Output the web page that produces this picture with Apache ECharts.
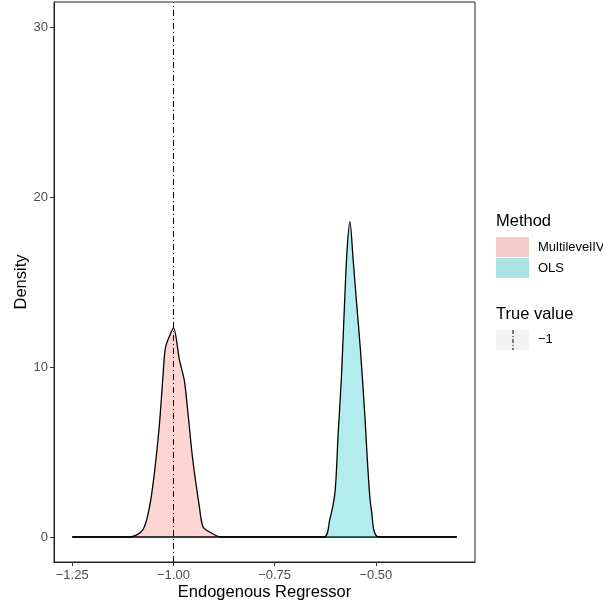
<!DOCTYPE html>
<html lang="en">
<head>
  <meta charset="UTF-8">
  <title>Density of the endogenous regressor</title>
  <script src="https://cdn.jsdelivr.net/npm/echarts@6/dist/echarts.min.js"></script>
</head>
<style>
  body { margin: 0; background: #fff; }
  #main { width: 603px; height: 606px; }
</style>
<body>
  <div id="main"></div>
  <script>
    // data
    var methods = ['MultilevelIV', 'OLS'];
    var trueValue = -1;

    var mlivX = [-1.25, -1.109, -1.076, -1.059, -1.047, -1.035, -1.026, -1.020, -1.010, -1.000,
                 -0.985, -0.973, -0.965, -0.952, -0.936, -0.927, -0.911, -0.882, -0.30];
    var mlivY = [0, 0, 0.41, 1.78, 3.76, 6.5, 9.4, 11.1, 11.8, 12.3,
                 10.4, 9.2, 7.5, 4.5, 1.8, 0.6, 0.3, 0, 0];

    var olsX = [-1.25, -0.629, -0.614, -0.601, -0.593, -0.585, -0.577, -0.571, -0.564,
                -0.556, -0.548, -0.538, -0.527, -0.519, -0.511, -0.492, -0.30];
    var olsY = [0, 0, 1.0, 2.6, 6.1, 9.4, 13.9, 16.9, 18.55,
                16.3, 13.9, 11.0, 7.1, 3.8, 1.6, 0, 0];

    var xTicks = [-1.25, -1.00, -0.75, -0.50];
    var yTicks = [0, 10, 20, 30];

    function pairs(xs, ys) {
      return xs.map(function (x, i) { return [x, ys[i]]; });
    }
    function minusFmt(d) {
      return function (v) { return (v < 0 ? '\u2212' : '') + Math.abs(v).toFixed(d); };
    }

    var font = 'Liberation Sans, Arial, sans-serif';
    var myChart = echarts.init(document.getElementById('main'));

    option = {
      animation: false,
      textStyle: { fontFamily: font },
      grid: {
        left: 54, right: 128, top: 2, bottom: 44,
        outerBoundsMode: 'none',
        containLabel: false,
        show: true, borderColor: '#222', borderWidth: 1, backgroundColor: '#fff'
      },
      xAxis: {
        type: 'value',
        min: -1.295, max: -0.255,
        name: 'Endogenous Regressor',
        nameLocation: 'middle', nameGap: 22,
        nameMoveOverlap: false,
        nameTextStyle: { fontSize: 16.5, color: '#000', fontFamily: font },
        axisLine: { show: true, onZero: false, lineStyle: { color: '#222' } },
        axisTick: { show: true, length: 4, customValues: xTicks, lineStyle: { color: '#333' } },
        axisLabel: { customValues: xTicks, formatter: minusFmt(2), margin: 7,
                     fontSize: 13, color: '#4D4D4D', fontFamily: font },
        splitLine: { show: false }
      },
      yAxis: {
        type: 'value',
        min: -1.47, max: 31.47,
        name: 'Density',
        nameLocation: 'middle', nameGap: 24,
        nameMoveOverlap: false,
        nameTextStyle: { fontSize: 16.5, color: '#000', fontFamily: font },
        axisLine: { show: true, onZero: false, lineStyle: { color: '#222' } },
        axisTick: { show: true, length: 4, customValues: yTicks, lineStyle: { color: '#333' } },
        axisLabel: { customValues: yTicks, margin: 6, fontSize: 13, color: '#4D4D4D', fontFamily: font },
        splitLine: { show: false }
      },
      legend: {
        orient: 'vertical',
        left: 496, top: 237,
        padding: 0,
        icon: 'rect',
        itemWidth: 33, itemHeight: 20, itemGap: 1,
        selectedMode: false,
        textStyle: { fontSize: 13, color: '#000', padding: [0, 0, 0, 4], fontFamily: font },
        data: [
          { name: methods[0], itemStyle: { color: '#F4CCCA', borderWidth: 0 }, lineStyle: { width: 0 } },
          { name: methods[1], itemStyle: { color: '#A9E3E4', borderWidth: 0 }, lineStyle: { width: 0 } }
        ]
      },
      graphic: [
        { type: 'text', left: 496, top: 213,
          style: { text: 'Method', fontSize: 16.5, fill: '#000', fontFamily: font } },
        { type: 'text', left: 496, top: 306,
          style: { text: 'True value', fontSize: 16.5, fill: '#000', fontFamily: font } },
        { type: 'rect', left: 496, top: 330, shape: { width: 33, height: 20 },
          style: { fill: '#F2F2F2' } },
        { type: 'line', shape: { x1: 513, y1: 330, x2: 513, y2: 350 },
          style: { stroke: '#000', lineWidth: 1, lineDash: [4, 2, 1, 2] } },
        { type: 'text', left: 538, top: 333,
          style: { text: minusFmt(0)(trueValue), fontSize: 13, fill: '#000', fontFamily: font } }
      ],
      series: [
        {
          name: methods[0],
          type: 'line',
          smooth: 0.3,
          symbol: 'none',
          data: pairs(mlivX, mlivY),
          lineStyle: { color: '#000', width: 1.3 },
          itemStyle: { color: '#F4CCCA' },
          areaStyle: { color: 'rgba(248,118,109,0.3)', opacity: 1 },
          markLine: {
            silent: true,
            symbol: 'none',
            label: { show: false },
            lineStyle: { color: '#000', width: 1, type: [6, 3, 1, 3] },
            data: [{ xAxis: trueValue }]
          },
          z: 2
        },
        {
          name: methods[1],
          type: 'line',
          smooth: 0.3,
          symbol: 'none',
          data: pairs(olsX, olsY),
          lineStyle: { color: '#000', width: 1.3 },
          itemStyle: { color: '#A9E3E4' },
          areaStyle: { color: 'rgba(0,191,196,0.3)', opacity: 1 },
          z: 3
        }
      ]
    };

    myChart.setOption(option);
  </script>
</body>
</html>
